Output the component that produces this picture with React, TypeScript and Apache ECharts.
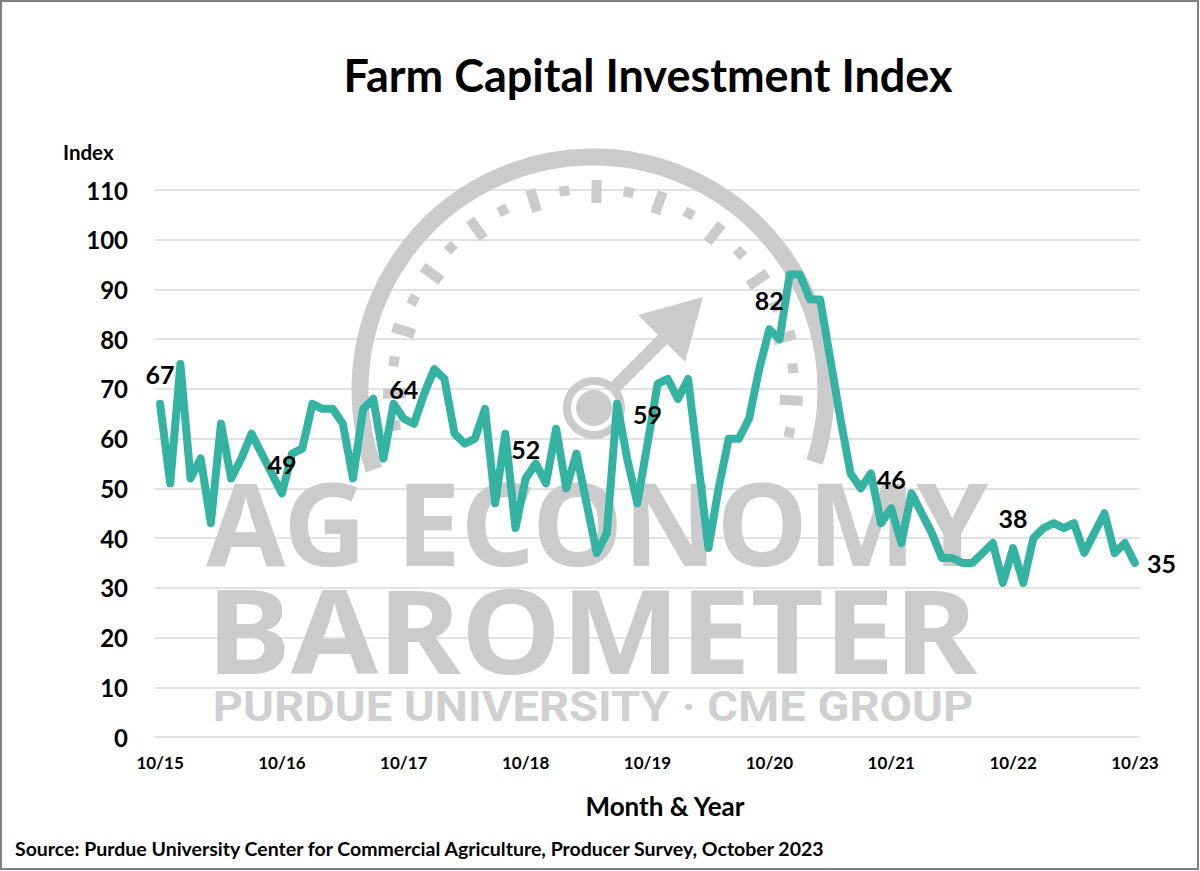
import React, { useEffect, useRef } from "react";
import * as echarts from "echarts";

// Monthly survey, October 2015 through October 2023
const firstMonth = 10;
const firstYear = 2015;
const monthCount = 97;
const months: string[] = (() => {
  const out: string[] = [];
  for (let k = 0; k < monthCount; k++) {
    const m = ((firstMonth - 1 + k) % 12) + 1;
    const y = firstYear + Math.floor((firstMonth - 1 + k) / 12);
    out.push(`${m}/${String(y % 100).padStart(2, "0")}`);
  }
  return out;
})();

// Farm Capital Investment Index values
const indexValues: number[] = [
  67, 51, 75, 52, 56, 43, 63, 52, 56, 61, 57, 53,
  49, 57, 58, 67, 66, 66, 63, 52, 66, 68, 56, 67,
  64, 63, 69, 74, 72, 61, 59, 60, 66, 47, 61, 42,
  52, 55, 51, 62, 50, 57, 47, 37, 41, 67, 56, 47,
  59, 71, 72, 68, 72, 55, 38, 50, 60, 60, 64, 74,
  82, 80, 93, 93, 88, 88, 76, 64, 53, 50, 53, 43,
  46, 39, 49, 45, 41, 36, 36, 35, 35, 37, 39, 31,
  38, 31, 40, 42, 43, 42, 43, 37, 41, 45, 37, 39,
  35,
];

// Points that carry a value label (every October)
const labeledIndices: number[] = [0, 12, 24, 36, 48, 60, 72, 84, 96];

// Y axis ticks
const yMin = 0;
const yMax = 110;
const yStep = 10;

const titleText = "Farm Capital Investment Index";
const yAxisTitle = "Index";
const xAxisTitle = "Month & Year";
const sourceText =
  "Source: Purdue University Center for Commercial Agriculture, Producer Survey, October 2023";
const watermarkLines = ["AG ECONOMY", "BAROMETER", "PURDUE UNIVERSITY · CME GROUP"];

const LINE_COLOR = "#35b3a2";
const WM = "#cbcbcb";
const FONT = "Lato, 'Open Sans', sans-serif";

function gaugeTicks() {
  const cx = 593;
  const cy = 390;
  const els: any[] = [];
  const base = 271;
  const step = 9.2;
  for (let k = -11; k <= 11; k++) {
    const a = ((base + k * step) * Math.PI) / 180;
    const long = k % 2 === 0;
    const r1 = long ? 187 : 196;
    const r2 = long ? 210 : 206;
    els.push({
      type: "line",
      z: 1,
      silent: true,
      shape: {
        x1: cx + r1 * Math.cos(a),
        y1: cy + r1 * Math.sin(a),
        x2: cx + r2 * Math.cos(a),
        y2: cy + r2 * Math.sin(a),
      },
      style: { stroke: WM, lineWidth: 10 },
    });
  }
  return els;
}

export default function App() {
  const ref = useRef<HTMLDivElement>(null);

  useEffect(() => {
    if (!ref.current) return;
    const chart = echarts.init(ref.current, undefined, { renderer: "svg" });

    const lastIdx = indexValues.length - 1;
    const seriesData = indexValues.map((v, i) =>
      labeledIndices.includes(i)
        ? {
            value: v,
            label: {
              show: true,
              position: i === lastIdx ? "right" : "top",
              distance: i === lastIdx ? 12 : 17,
            },
          }
        : v
    );

    const option: any = {
      animation: false,
      backgroundColor: "#ffffff",
      grid: { left: 155, right: 60, top: 190, bottom: 134, containLabel: false },
      xAxis: {
        type: "category",
        data: months,
        boundaryGap: true,
        axisLine: { show: false },
        axisTick: { show: false },
        splitLine: { show: false },
        axisLabel: {
          interval: 11,
          margin: 17,
          fontSize: 17,
          fontWeight: "bold",
          fontFamily: FONT,
          color: "#000",
        },
      },
      yAxis: {
        type: "value",
        min: yMin,
        max: yMax,
        interval: yStep,
        axisLine: { show: false },
        axisTick: { show: false },
        axisLabel: {
          margin: 27,
          fontSize: 24,
          fontWeight: "bold",
          fontFamily: FONT,
          color: "#000",
        },
        splitLine: { lineStyle: { color: "#d9d9d9", width: 1.5 } },
      },
      series: [
        {
          type: "line",
          data: seriesData,
          z: 3,
          symbol: "circle",
          symbolSize: 0.1,
          showSymbol: true,
          showAllSymbol: true,
          itemStyle: { color: LINE_COLOR },
          lineStyle: { color: LINE_COLOR, width: 8, join: "round", cap: "round" },
          label: {
            show: false,
            fontSize: 25,
            fontWeight: "bold",
            fontFamily: FONT,
            color: "#000",
          },
          emphasis: { disabled: true },
        },
      ],
      graphic: [
        // watermark gauge
        {
          type: "arc",
          z: 1,
          silent: true,
          shape: {
            cx: 593,
            cy: 390,
            r: 233,
            startAngle: (160 * Math.PI) / 180,
            endAngle: (378 * Math.PI) / 180,
            clockwise: true,
          },
          style: { stroke: WM, lineWidth: 17, fill: null },
        },
        ...gaugeTicks(),
        {
          type: "ring",
          z: 1,
          silent: true,
          shape: { cx: 594, cy: 408, r: 31, r0: 23 },
          style: { fill: WM },
        },
        {
          type: "circle",
          z: 1,
          silent: true,
          shape: { cx: 594, cy: 408, r: 18 },
          style: { fill: WM },
        },
        {
          type: "line",
          z: 1,
          silent: true,
          shape: { x1: 612, y1: 390, x2: 668, y2: 334 },
          style: { stroke: WM, lineWidth: 13 },
        },
        {
          type: "polygon",
          z: 1,
          silent: true,
          shape: { points: [[703, 297], [638, 315], [685, 362]] },
          style: { fill: WM },
        },
        // watermark text
        {
          type: "text",
          z: 1,
          silent: true,
          x: 597,
          y: 521,
          style: {
            text: watermarkLines[0],
            fill: WM,
            font: "bold 115px 'Noto Sans', 'Open Sans', sans-serif",
            textAlign: "center",
            textVerticalAlign: "middle",
          },
        },
        {
          type: "text",
          z: 1,
          silent: true,
          x: 592,
          y: 629,
          scaleX: 1.08,
          style: {
            text: watermarkLines[1],
            fill: WM,
            font: "bold 117px 'Noto Sans', 'Open Sans', sans-serif",
            textAlign: "center",
            textVerticalAlign: "middle",
          },
        },
        {
          type: "text",
          z: 1,
          silent: true,
          x: 593,
          y: 707,
          scaleX: 1.12,
          style: {
            text: watermarkLines[2],
            fill: "#d0d0d0",
            font: "bold 42px Roboto, 'Noto Sans', sans-serif",
            textAlign: "center",
            textVerticalAlign: "middle",
          },
        },
        // texts
        {
          type: "text",
          z: 5,
          x: 648,
          y: 75,
          style: {
            text: titleText,
            fill: "#000",
            font: `bold 45px ${FONT}`,
            textAlign: "center",
            textVerticalAlign: "middle",
          },
        },
        {
          type: "text",
          z: 5,
          x: 63,
          y: 152,
          style: {
            text: yAxisTitle,
            fill: "#000",
            font: `bold 20.5px ${FONT}`,
            textAlign: "left",
            textVerticalAlign: "middle",
          },
        },
        {
          type: "text",
          z: 5,
          x: 665,
          y: 806,
          style: {
            text: xAxisTitle,
            fill: "#000",
            font: `bold 26px ${FONT}`,
            textAlign: "center",
            textVerticalAlign: "middle",
          },
        },
        {
          type: "text",
          z: 5,
          x: 15,
          y: 848,
          style: {
            text: sourceText,
            fill: "#000",
            font: `bold 19.5px ${FONT}`,
            textAlign: "left",
            textVerticalAlign: "middle",
          },
        },
        // outer border
        {
          type: "rect",
          z: 6,
          silent: true,
          shape: { x: 1, y: 1, width: 1197, height: 868 },
          style: { fill: null, stroke: "#7f7f7f", lineWidth: 2 },
        },
      ],
    };

    chart.setOption(option);
    return () => {
      chart.dispose();
    };
  }, []);

  return (
    <div
      ref={ref}
      style={{ position: "absolute", left: 0, top: 0, width: 1200, height: 871 }}
    />
  );
}
